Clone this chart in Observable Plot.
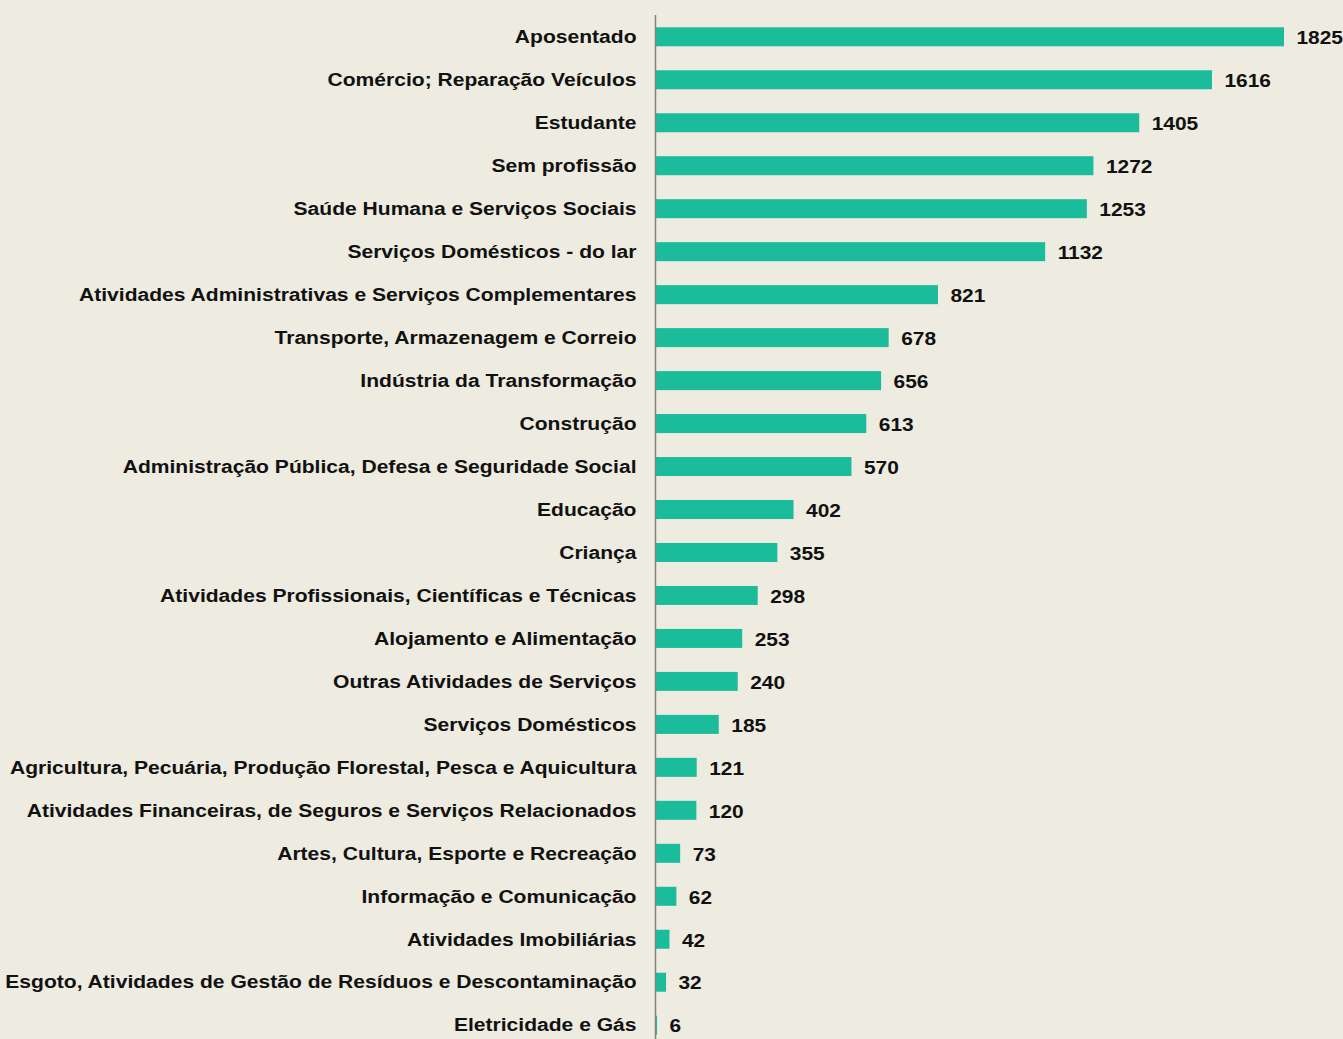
<!DOCTYPE html>
<html>
<head>
<meta charset="utf-8">
<script src="https://cdn.jsdelivr.net/npm/d3@7"></script>
<script src="https://cdn.jsdelivr.net/npm/@observablehq/plot@0.6"></script>
<style>
  html, body { margin: 0; padding: 0; background: #EEEBE0; }
  #chart { width: 1343px; height: 1039px; overflow: hidden; }
</style>
</head>
<body>
<div id="chart"></div>
<script>
const categories = [
  "Aposentado",
  "Comércio; Reparação Veículos",
  "Estudante",
  "Sem profissão",
  "Saúde Humana e Serviços Sociais",
  "Serviços Domésticos - do lar",
  "Atividades Administrativas e Serviços Complementares",
  "Transporte, Armazenagem e Correio",
  "Indústria da Transformação",
  "Construção",
  "Administração Pública, Defesa e Seguridade Social",
  "Educação",
  "Criança",
  "Atividades Profissionais, Científicas e Técnicas",
  "Alojamento e Alimentação",
  "Outras Atividades de Serviços",
  "Serviços Domésticos",
  "Agricultura, Pecuária, Produção Florestal, Pesca e Aquicultura",
  "Atividades Financeiras, de Seguros e Serviços Relacionados",
  "Artes, Cultura, Esporte e Recreação",
  "Informação e Comunicação",
  "Atividades Imobiliárias",
  "Esgoto, Atividades de Gestão de Resíduos e Descontaminação",
  "Eletricidade e Gás"
];
const values = [1825, 1616, 1405, 1272, 1253, 1132, 821, 678, 656, 613, 570, 402, 355, 298, 253, 240, 185, 121, 120, 73, 62, 42, 32, 6];

const data = categories.map((c, i) => ({category: c, value: values[i]}));

const chart = Plot.plot({
  width: 1343,
  height: 1039,
  marginLeft: 655,
  marginRight: 59,
  marginTop: 23,
  marginBottom: 0,
  style: {
    background: "#EEEBE0",
    fontFamily: "'Liberation Sans', Arial, sans-serif",
    fontWeight: "bold",
    fontSize: "18px",
    color: "#111"
  },
  x: {domain: [0, 1825], axis: null},
  y: {domain: categories, paddingInner: 0.558, paddingOuter: 0.1, round: false, label: null},
  marks: [
    Plot.barX(data, {x: "value", y: "category", fill: "#1ABC9C"}),
    Plot.text(data, {x: "value", y: "category", text: d => String(d.value), textAnchor: "start", dx: 12, dy: 1, fill: "#111", fontWeight: "bold", fontSize: 18}),
    Plot.axisY({tickSize: 0, tickPadding: 19, fontSize: 18, fontWeight: "bold", fill: "#111"}),
    Plot.ruleX([0], {stroke: "#808080", strokeWidth: 1.5, insetTop: -8})
  ]
});
document.getElementById("chart").appendChild(chart);
// Reference glyphs are horizontally wider; stretch text to match
d3.select(chart).selectAll("text").each(function() {
  const w = this.getComputedTextLength();
  const isAxis = this.closest("[aria-label='y-axis tick label']") !== null;
  const k = isAxis ? 1.17 : 1.16;
  if (w > 0) {
    this.setAttribute("textLength", (w * k).toFixed(1));
    this.setAttribute("lengthAdjust", "spacingAndGlyphs");
  }
});
</script>
</body>
</html>
